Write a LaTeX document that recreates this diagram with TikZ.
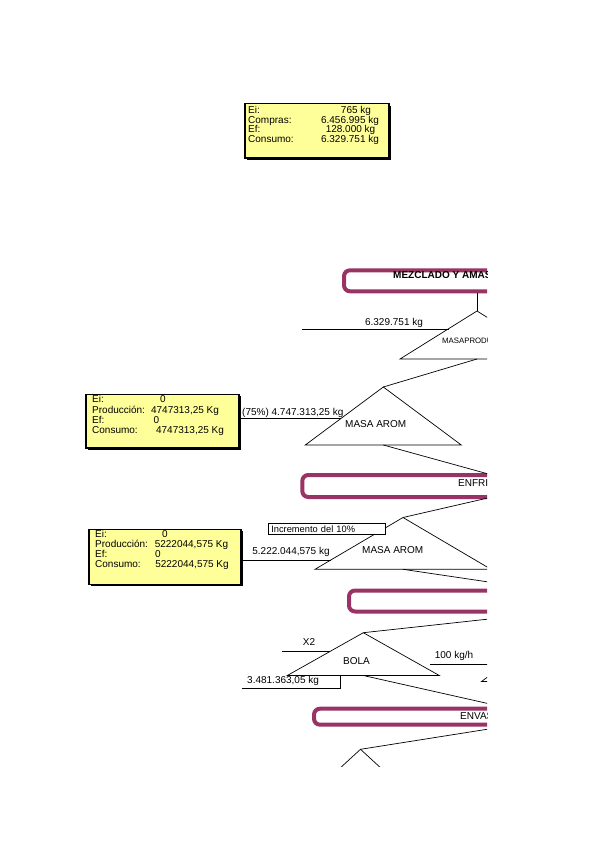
\documentclass[tikz,border=0pt]{standalone}
\usepackage{fontspec}
\setmainfont{Liberation Sans}
\usetikzlibrary{shadows}
\definecolor{ciruela}{HTML}{993366}
\definecolor{amarillo}{HTML}{FFFF99}

\begin{document}
\begin{tikzpicture}[x=1pt, y=-1pt]
    % 样式
    \tikzset{
        txt/.style={font=\fontsize{10}{10}\selectfont, inner sep=0pt, anchor=base west},
        txtc/.style={txt, anchor=base},
        chico/.style={font=\fontsize{7.8}{7.8}\selectfont, inner sep=0pt, anchor=base west},
        caja/.style={rectangle, draw=black, line width=1.5pt, fill=amarillo, anchor=north west, inner sep=0pt,
            drop shadow={shadow xshift=2pt, shadow yshift=-2pt, fill=black, opacity=1}},
        barra/.style={rectangle, rounded corners=6pt, draw=ciruela, line width=4pt, anchor=west, inner sep=0pt, minimum width=320pt},
        linea/.style={line width=0.7pt},
        incbox/.style={rectangle, draw=black, line width=0.6pt, fill=white, anchor=north west, inner xsep=3pt, inner ysep=0pt,
            minimum height=11pt, text width=111pt, align=left, font=\fontsize{9.3}{9.3}\selectfont},
    }

    % 页面大小和裁剪
    \path[use as bounding box, fill=white] (0,0) rectangle (599,848);
    \clip (0,0) rectangle (487,766);

    % 库存框 (黄色)
    \node[caja, minimum width=144pt, minimum height=54pt] (caja1) at (244,103) {};
    \foreach \lab/\val/\vx [count=\i] in {Ei:/765 kg/356, Compras:/6.456.995 kg/350, Ef:/128.000 kg/350.5, Consumo:/6.329.751 kg/350} {
        \node[txt] (c1l\i) at (248, 103.5+9.8*\i) {\lab};
        \node[txtc] (c1v\i) at (\vx, 103.5+9.8*\i) {\val};
    }

    \node[caja, minimum width=153pt, minimum height=53.5pt] (caja2) at (85,393.5) {};
    \foreach \lab/\val/\vx [count=\i] in {Ei:/0/163, Producción:/{4747313,25 Kg}/185, Ef:/0/156.5, Consumo:/{4747313,25 Kg}/190} {
        \node[txt] (c2l\i) at (92, 392.5+10.25*\i) {\lab};
        \node[txtc] (c2v\i) at (\vx, 392.5+10.25*\i) {\val};
    }

    \node[caja, minimum width=152pt, minimum height=55pt] (caja3) at (88,528.5) {};
    \foreach \lab/\val/\vx [count=\i] in {Ei:/0/165, Producción:/{5222044,575 Kg}/191.5, Ef:/0/158, Consumo:/{5222044,575 Kg}/192} {
        \node[txt] (c3l\i) at (95, 527.8+10*\i) {\lab};
        \node[txtc] (c3v\i) at (\vx, 527.8+10*\i) {\val};
    }

    % 工序条 (紫红色)
    \node[barra, minimum height=21pt] (barra1) at (342,280.8) {};
    \node[barra, minimum height=22pt] (barra2) at (300.3,486) {};
    \node[barra, minimum height=21pt] (barra3) at (347,601) {};
    \node[barra, minimum height=16pt] (barra4) at (312,716.7) {};
    \node[txt, font=\fontsize{10}{10}\selectfont\bfseries] (n1) at (393,278) {MEZCLADO Y AMASADO};
    \node[txt] (n2) at (458,486) {ENFRIAMIENTO};
    \node[txt] (n4) at (460,719) {ENVASADO};

    % 三角形
    \foreach \n/\ax/\ay/\by/\hw in {t1/477/311/359/77, t2/383.3/387/445/78, t3/403/517.5/569.3/88,
                                    t4/363.3/632.7/675.5/76, t5/360.5/749.3/781/34.5, t6/531/645/681.5/49.5} {
        \coordinate (\n-top) at (\ax,\ay);
        \coordinate (\n-izq) at (\ax-\hw,\by);
        \coordinate (\n-der) at (\ax+\hw,\by);
        \coordinate (\n-base) at (\ax,\by);
        \draw[linea] (\n-izq) -- (\n-top) -- (\n-der) -- cycle;
    }
    \node[chico] (m1) at (442,343) {MASAPRODUCIDA};
    \node[txt] (m2) at (345,427) {MASA AROM};
    \node[txt] (m3) at (362,553) {MASA AROM};
    \node[txt] (m4) at (343,664) {BOLA};

    % 连线 (工序条 <-> 三角形)
    \coordinate (b2arr) at (492,475);
    \coordinate (b2abj) at (490,497.5);
    \coordinate (b3arr) at (546,590.5);
    \coordinate (b3abj) at (558,611.5);
    \coordinate (b4arr) at (511,708.7);
    \coordinate (b4abj) at (516,724.7);
    \draw[linea] (t1-top) -- (t1-top |- barra1.south);
    \draw[linea] (t1-base) -- (t2-top);
    \draw[linea] (t2-base) -- (b2arr);
    \draw[linea] (b2abj) -- (t3-top);
    \draw[linea] (t3-base) -- (b3arr);
    \draw[linea] (b3abj) -- (t4-top);
    \draw[linea] (t4-base) -- (b4arr);
    \draw[linea] (b4abj) -- (t5-top);

    % 输入/输出线
    \coordinate (e1) at (302,329);
    \coordinate (e1f) at (449,329);
    \coordinate (e2f) at (341,418);
    \coordinate (e3f) at (330.5,560);
    \coordinate (x2i) at (282,651);
    \coordinate (x2f) at (330.4,651);
    \coordinate (sal) at (242,688);
    \coordinate (salf) at (340,675.5);
    \coordinate (e6) at (430,664);
    \coordinate (e6f) at (505,664);
    \draw[linea] (e1) -- (e1f);
    \draw[linea] (caja2.east |- e2f) -- (e2f);
    \draw[linea] (caja3.east |- e3f) -- (e3f);
    \draw[linea] (x2i) -- (x2f);
    \draw[linea] (sal) -| (salf);
    \draw[linea] (e6) -- (e6f);
    \node[txtc] (k1) at (394,325) {6.329.751 kg};
    \node[txt] (k2) at (242,415) {(75\%) 4.747.313,25 kg};
    \node[txtc] (k3) at (291,554) {5.222.044,575 kg};
    \node[txtc] (k4) at (309,645) {X2};
    \node[txt] (k5) at (247,683) {3.481.363,05 kg};
    \node[txtc] (k6) at (454,658) {100 kg/h};

    % 增量说明框
    \node[incbox] (inc) at (268,523) {Incremento del 10\%};
\end{tikzpicture}
\end{document}
